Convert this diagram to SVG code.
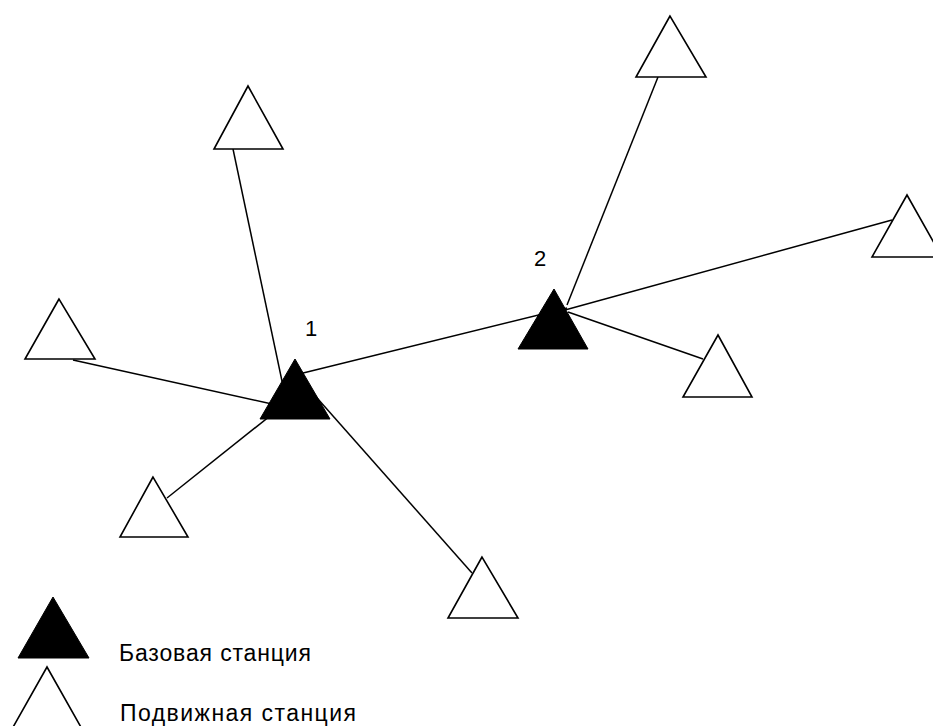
<svg xmlns="http://www.w3.org/2000/svg" width="933" height="726" viewBox="0 0 933 726">
<style>
.link{stroke:#000;stroke-width:1.5;fill:none}
.mobile{fill:#fff;stroke:#000;stroke-width:1.6;stroke-linejoin:miter}
.base{fill:#000;stroke:#000;stroke-width:1}
.lbl{font-family:"Liberation Sans",Arial,sans-serif;font-size:23px;fill:#000}
.num{font-family:"Liberation Sans",Arial,sans-serif;font-size:22px;fill:#000}
</style>
<rect width="933" height="726" fill="#fff"/>
<g id="connectors">
<line class="link" x1="233" y1="149" x2="286" y2="400"/>
<line class="link" x1="73" y1="360" x2="290" y2="408"/>
<line class="link" x1="167" y1="498" x2="295" y2="396"/>
<line class="link" x1="472" y1="573" x2="310" y2="390"/>
<line class="link" x1="295" y1="375" x2="567" y2="308"/>
<line class="link" x1="658" y1="77" x2="567" y2="305"/>
<line class="link" x1="565" y1="310" x2="892" y2="220"/>
<line class="link" x1="568" y1="312" x2="703" y2="359"/>
</g>
<g id="ms-top"><polygon class="mobile" points="248,86 214,149 283,149"/></g>
<g id="ms-topright"><polygon class="mobile" points="670,16 636,77 706,77"/></g>
<g id="ms-right"><polygon class="mobile" points="907,195 872,257 942,257"/></g>
<g id="ms-left"><polygon class="mobile" points="59,299 25,359 95,359"/></g>
<g id="ms-lowerleft"><polygon class="mobile" points="153,477 120,537 188,537"/></g>
<g id="ms-bottom"><polygon class="mobile" points="482,557 448,618 518,618"/></g>
<g id="ms-rightlower"><polygon class="mobile" points="718,335 683,397 752,397"/></g>
<g id="bs-1"><polygon class="base" points="295,359 260,419 330,419"/><text class="num" x="311" y="336" text-anchor="middle">1</text></g>
<g id="bs-2"><polygon class="base" points="554,289 518,349 588,349"/><text class="num" x="540" y="266" text-anchor="middle">2</text></g>
<g id="legend">
<polygon class="base" points="53,597 18,658 89,658"/>
<text class="lbl" x="119" y="661" textLength="192" lengthAdjust="spacing">Базовая станция</text>
<polygon class="mobile" points="47,667 12,729 82,729"/>
<text class="lbl" x="120" y="721" textLength="236" lengthAdjust="spacing">Подвижная станция</text>
</g>
</svg>
